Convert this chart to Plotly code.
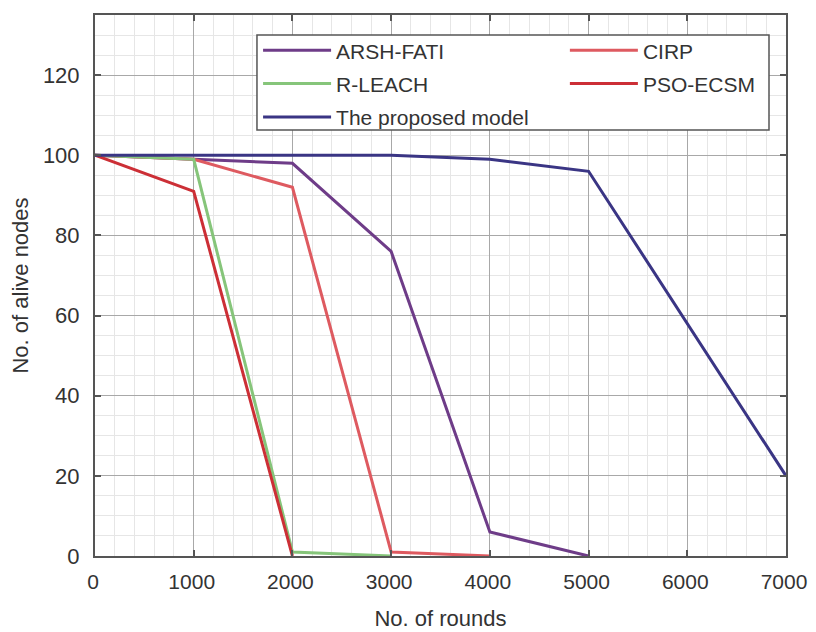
import plotly.graph_objects as go

# Data
arsh_x = [0, 1000, 2000, 3000, 4000, 5000]
arsh_y = [100, 99, 98, 76, 6, 0]
cirp_x = [0, 1000, 2000, 3000, 4000]
cirp_y = [100, 99, 92, 1, 0]
rleach_x = [0, 1000, 2000, 3000]
rleach_y = [100, 99, 1, 0]
pso_x = [0, 1000, 2000]
pso_y = [100, 91, 0]
prop_x = [0, 1000, 2000, 3000, 4000, 5000, 7000]
prop_y = [100, 100, 100, 100, 99, 96, 20]

x_ticks = [0, 1000, 2000, 3000, 4000, 5000, 6000, 7000]
y_ticks = [0, 20, 40, 60, 80, 100, 120]

FONT = "Liberation Sans, Arial, sans-serif"

fig = go.Figure()
series = [
    ("ARSH-FATI", arsh_x, arsh_y, "#6E3C88", "legend"),
    ("CIRP", cirp_x, cirp_y, "#DE5A60", "legend2"),
    ("R-LEACH", rleach_x, rleach_y, "#86C57A", "legend"),
    ("PSO-ECSM", pso_x, pso_y, "#CC2F36", "legend2"),
    ("The proposed model", prop_x, prop_y, "#3A3584", "legend"),
]
for name, xs, ys, col, lg in series:
    fig.add_trace(go.Scatter(x=xs, y=ys, mode="lines", name=name,
                             legend=lg, legendgroup=name,
                             line=dict(color=col, width=3)))

axis_common = dict(
    showline=True, linecolor="#555555", linewidth=2, mirror="ticks",
    ticks="inside", ticklen=6, tickcolor="#555555", tickwidth=1.5,
    showgrid=True, gridcolor="#A8A8A8", gridwidth=1,
    zeroline=False, automargin=False,
    title_font=dict(family=FONT, size=22, color="#333333"),
)

fig.update_xaxes(range=[0, 7000], tickvals=x_ticks,
                 title_text="No. of rounds", title_standoff=18,
                 ticklabelstandoff=6, ticklabelshift=-2,
                 tickfont=dict(family=FONT, size=21, color="#333333"),
                 minor=dict(dtick=200, showgrid=True, gridcolor="#E6E6E6", gridwidth=1),
                 **axis_common)
fig.update_yaxes(range=[0, 135], tickvals=y_ticks,
                 title_text="No. of alive nodes", title_standoff=8,
                 ticklabelstandoff=9,
                 tickfont=dict(family=FONT, size=22, color="#333333"),
                 minor=dict(dtick=5, showgrid=True, gridcolor="#E6E6E6", gridwidth=1),
                 **axis_common)

legend_common = dict(
    xanchor="left", yanchor="top", orientation="v",
    itemwidth=68, bgcolor="rgba(0,0,0,0)", borderwidth=0,
    font=dict(family=FONT, size=21, color="#333333"),
    traceorder="grouped", tracegroupgap=3,
)

fig.update_layout(
    width=816, height=624,
    margin=dict(l=87, r=38, t=7, b=76),
    paper_bgcolor="white", plot_bgcolor="white",
    font=dict(family=FONT, color="#333333"),
    legend=dict(x=0.236, y=0.972, **legend_common),
    legend2=dict(x=0.680, y=0.972, **legend_common),
    showlegend=True,
    shapes=[dict(type="rect", xref="paper", yref="paper",
                 x0=0.2344, x1=0.9754, y0=0.7874, y1=0.963,
                 line=dict(color="#555555", width=1.5),
                 fillcolor="white", layer="above")],
)

fig.write_html("out.html")
